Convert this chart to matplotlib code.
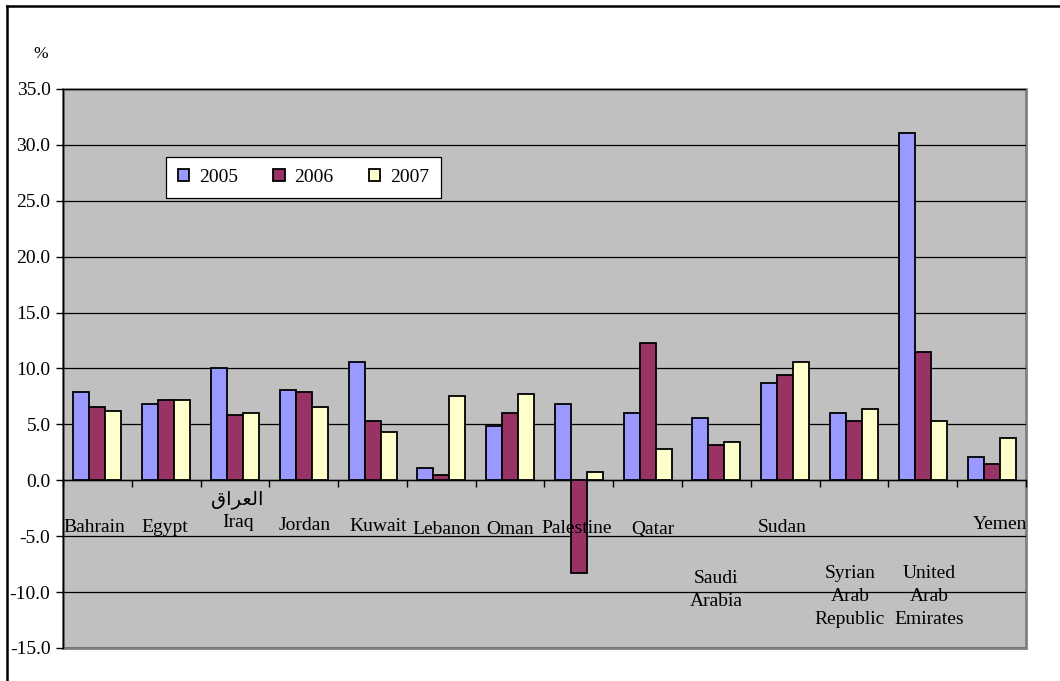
import numpy as np
import matplotlib.pyplot as plt
from matplotlib.lines import Line2D
from matplotlib.patches import Rectangle

plt.rcParams['font.family'] = ['Liberation Serif', 'DejaVu Sans']
plt.rcParams['axes.unicode_minus'] = False

# --- data ---
countries = ['Bahrain', 'Egypt', '\uFED5\uFE8D\uFEAE\uFECC\uFEDF\uFE8D\nIraq', 'Jordan', 'Kuwait',
             'Lebanon', 'Oman', 'Palestine', 'Qatar', 'Saudi\nArabia', 'Sudan',
             'Syrian\nArab\nRepublic', 'United\nArab\nEmirates', 'Yemen']
years = ['2005', '2006', '2007']
v2005 = [7.9, 6.8, 10.0, 8.1, 10.6, 1.1, 4.9, 6.8, 6.0, 5.6, 8.7, 6.0, 31.1, 2.1]
v2006 = [6.6, 7.2, 5.8, 7.9, 5.3, 0.5, 6.0, -8.3, 12.3, 3.2, 9.4, 5.3, 11.5, 1.5]
v2007 = [6.2, 7.2, 6.0, 6.6, 4.3, 7.5, 7.7, 0.7, 2.8, 3.4, 10.6, 6.4, 5.3, 3.8]

# label placement (baseline of first line, in data units) and small x shifts
label_y = [-4.65, -4.62, -2.15, -4.41, -4.56, -4.77, -4.77, -4.71, -4.77,
           -9.15, -4.62, -8.71, -8.71, -4.38]
label_dx = [-0.05, -0.02, 0.04, 0.02, 0.08, 0.08, 0.0, -0.03, 0.07,
            0.0, -0.05, -0.06, 0.09, 0.12]

COLORS = ['#9999FF', '#993366', '#FFFFCC']

fig = plt.figure(figsize=(10.6, 6.81), dpi=100)
ax = fig.add_axes([63 / 1060, 33 / 681, 963 / 1060, 559 / 681])
ax.set_facecolor('#C0C0C0')

x = np.arange(len(countries))
w = 1 / 4.3
for k, (vals, yr) in enumerate(zip([v2005, v2006, v2007], years)):
    ax.bar(x + (k - 1) * w, vals, w, color=COLORS[k], edgecolor='black',
           linewidth=1.3, label=yr, zorder=3)

ax.set_xlim(-0.5, len(countries) - 0.5)
ax.set_ylim(-15, 35)
ax.set_yticks(np.arange(-15, 36, 5))
ax.set_yticklabels([f'{t:.1f}' for t in np.arange(-15, 36, 5)], fontsize=14)
ax.yaxis.grid(True, color='black', linewidth=0.9, zorder=1)
ax.set_axisbelow(True)

# category boundaries as ticks on the zero line
ax.spines['bottom'].set_position(('data', 0))
ax.spines['bottom'].set_linewidth(1.0)
ax.set_xticks(np.arange(-0.5, len(countries), 1.0))
ax.set_xticklabels([])
ax.tick_params(axis='x', length=5, width=1, direction='out')
ax.tick_params(axis='y', length=5, width=1, pad=4)
ax.spines['top'].set_visible(False)
ax.spines['right'].set_visible(False)
ax.spines['left'].set_linewidth(1.0)
ax.add_patch(Rectangle((0, 0), 1, 1, transform=ax.transAxes, fill=False,
                       edgecolor='#808080', linewidth=2, clip_on=False, zorder=0.5))

# category labels
for i, name in enumerate(countries):
    for j, line in enumerate(name.split('\n')):
        ax.text(i + label_dx[i], label_y[i] - 2.05 * j, line, ha='center',
                va='baseline', fontsize=14, zorder=4)

ax.legend(loc='upper left', bbox_to_anchor=(0.107, 0.878), borderaxespad=0,
          ncol=3, fontsize=14, frameon=True, fancybox=False, edgecolor='black',
          framealpha=1, handlelength=0.6, handleheight=0.6, handletextpad=0.5,
          columnspacing=1.8, borderpad=0.6)
ax.get_legend().get_frame().set_linewidth(0.9)

fig.text(41 / 1060, 1 - 54 / 681, '%', fontsize=12.5, ha='center', va='center')

# outer chart frame (clipped on right and bottom in the source)
fig.add_artist(Line2D([6.5 / 1060, 6.5 / 1060], [0, 1 - 5.5 / 681],
                      transform=fig.transFigure, color='black', linewidth=1.8))
fig.add_artist(Line2D([6.5 / 1060, 1], [1 - 5.5 / 681, 1 - 5.5 / 681],
                      transform=fig.transFigure, color='black', linewidth=1.8))

fig.savefig('out.png', dpi=100)
